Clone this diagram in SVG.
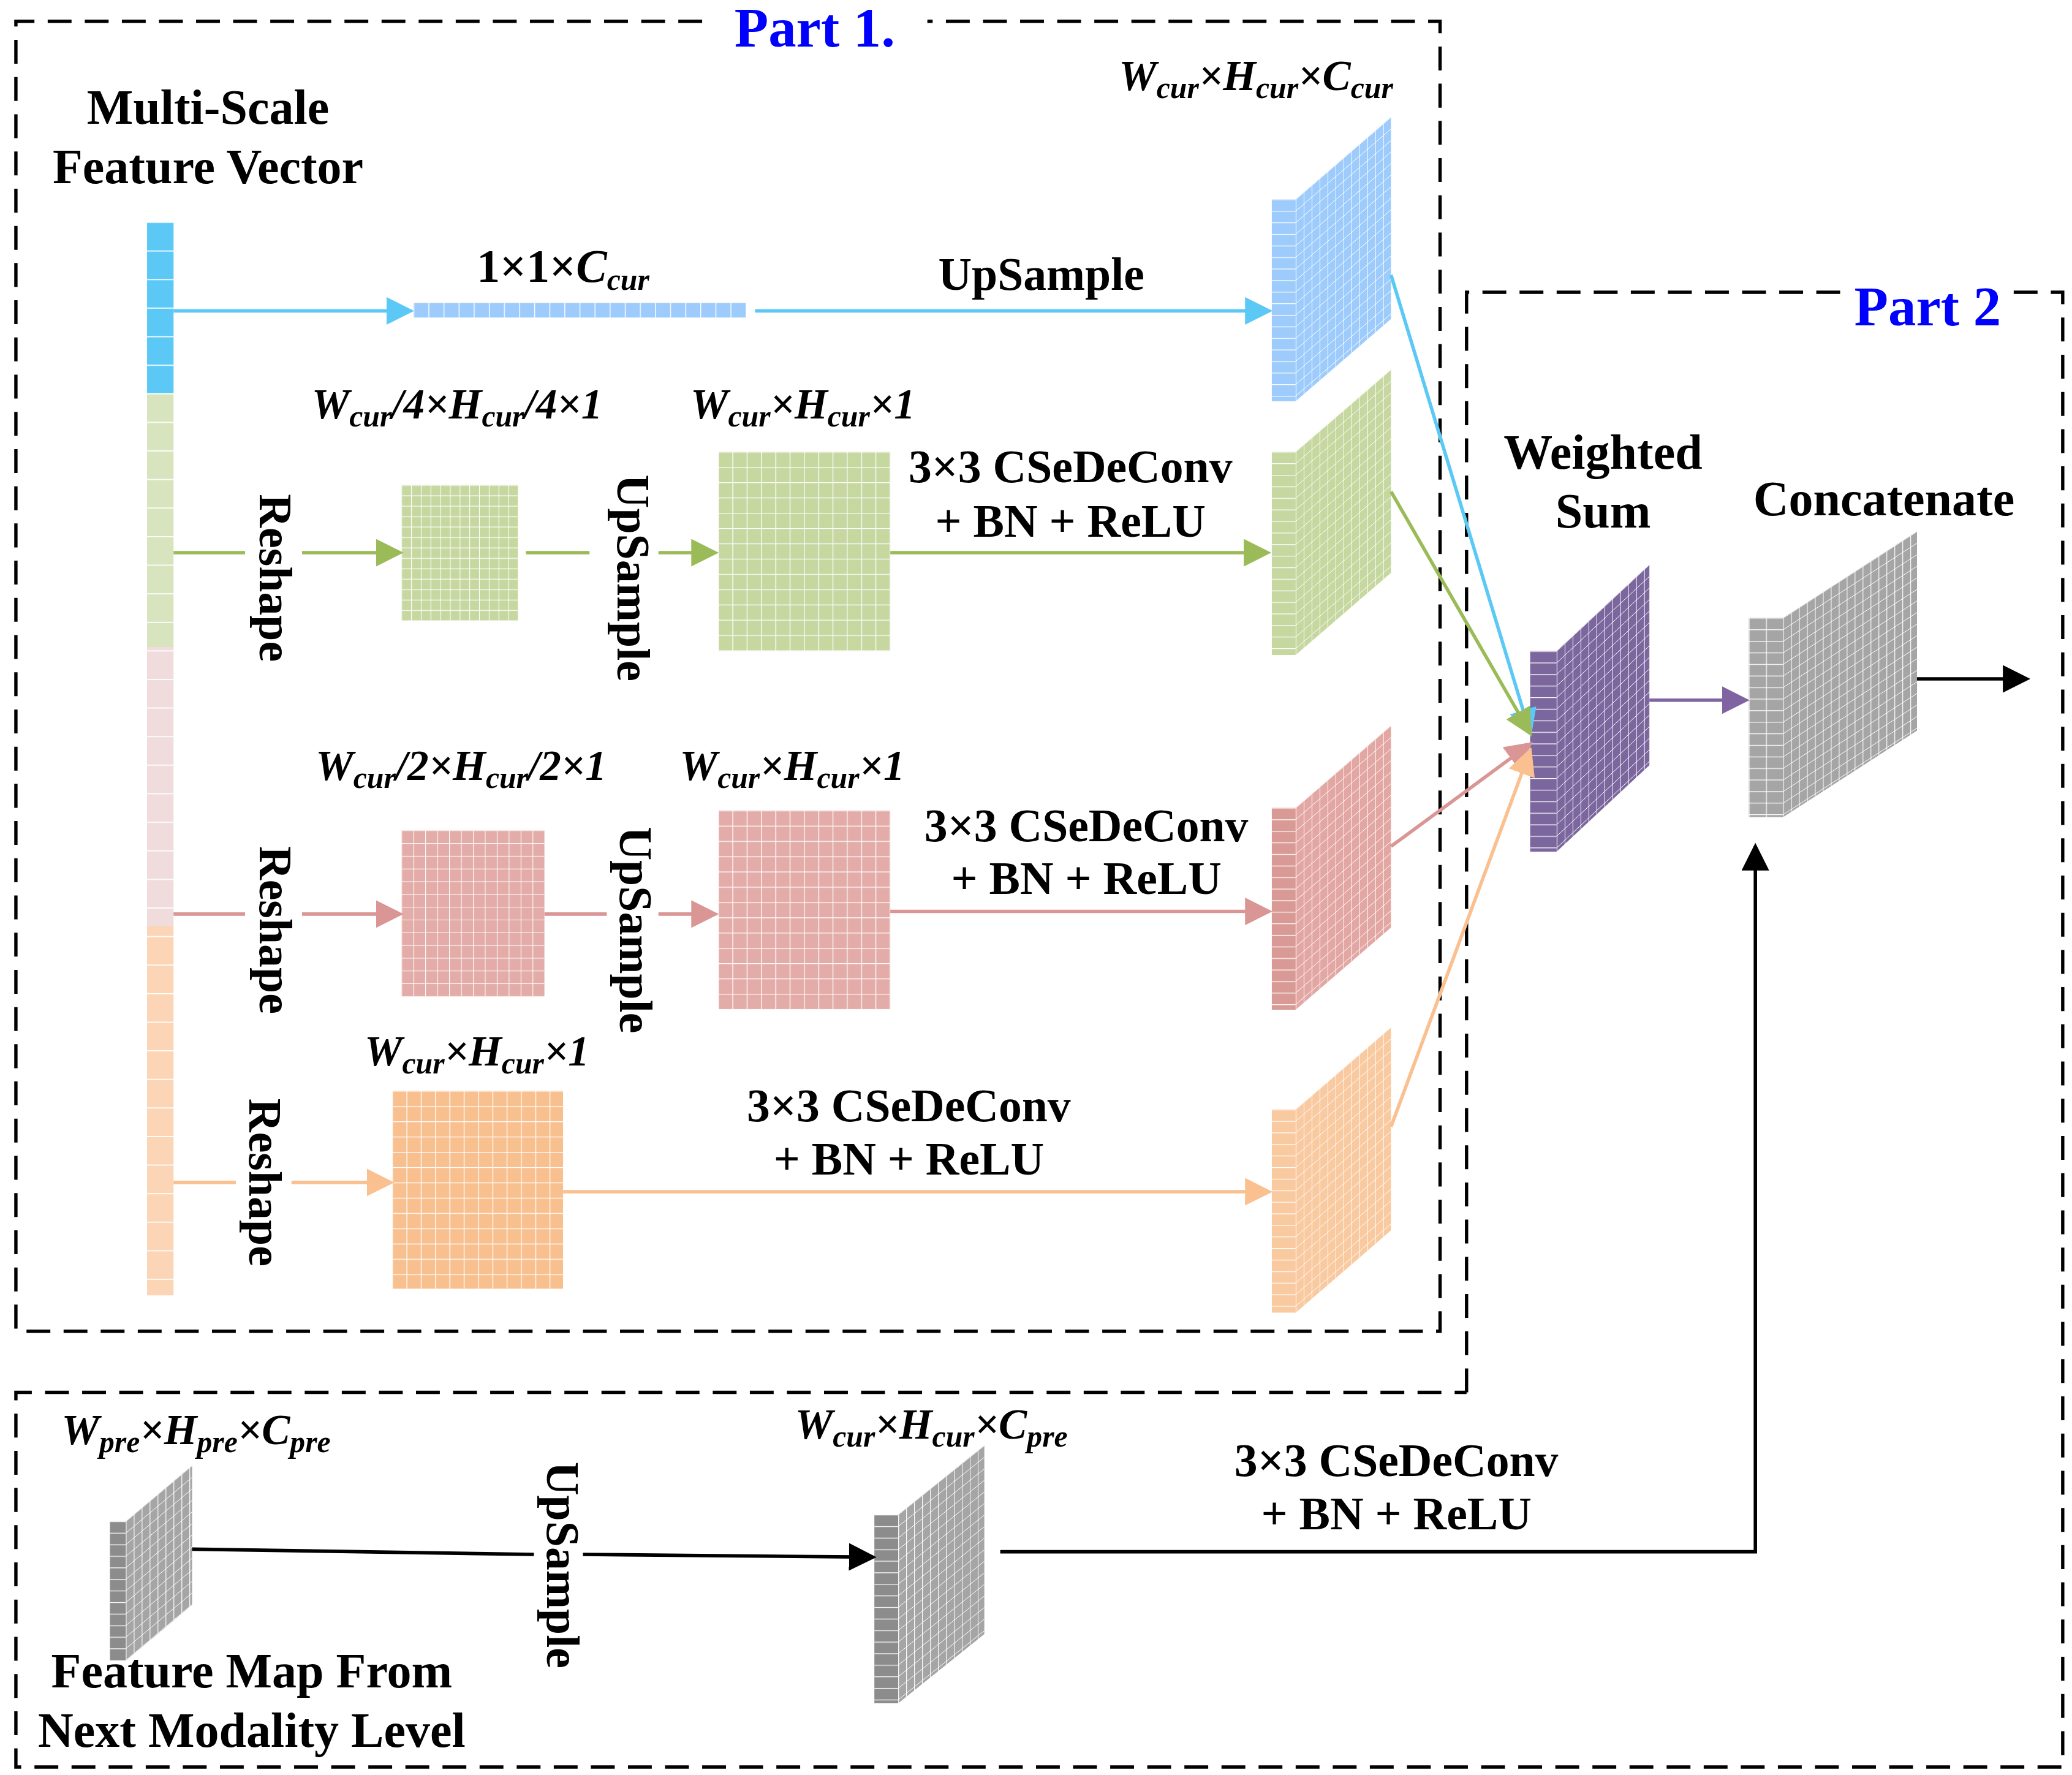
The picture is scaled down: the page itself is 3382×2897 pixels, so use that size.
<svg xmlns="http://www.w3.org/2000/svg" width="3382" height="2897" viewBox="0 0 3382 2897">
<style>
.t{font-family:"Liberation Serif","Times New Roman",serif;font-weight:bold;font-size:35px;fill:#000;text-anchor:middle}
.b{font-size:37px}
.i{font-style:italic;font-size:32px}
.s{font-size:23px}
.ttl{font-family:"Liberation Serif",serif;font-weight:bold;font-size:42px;fill:#0000FF;text-anchor:middle}
.dash{fill:none;stroke:#000;stroke-width:2.5;stroke-dasharray:18 10}
.ln{fill:none;stroke-width:2.6}
</style>
<defs>
<pattern id="ps" width="6" height="8.7" patternUnits="userSpaceOnUse"><path d="M0,0H6M0,0V8.7" stroke="#fff" stroke-width="1" fill="none"/></pattern>
<pattern id="pf" width="18" height="8.7" patternUnits="userSpaceOnUse"><path d="M0,0H18" stroke="#fff" stroke-width="1.2" fill="none"/></pattern>
<pattern id="pf2" width="13" height="8.7" patternUnits="userSpaceOnUse"><path d="M0,0H13M0,0V8.7" stroke="#fff" stroke-width="1.2" fill="none"/></pattern>
<pattern id="pv" width="20" height="21.5" patternUnits="userSpaceOnUse"><path d="M0,0H20" stroke="#fff" stroke-width="1.5" fill="none"/></pattern>
<pattern id="ph" width="11.4" height="11" patternUnits="userSpaceOnUse"><path d="M0,0V11" stroke="#fff" stroke-width="1.3" fill="none"/></pattern>
<pattern id="p7" width="7.33" height="7.85" patternUnits="userSpaceOnUse"><path d="M0,0H7.33M0,0V7.85" stroke="#fff" stroke-width="1" fill="none"/></pattern>
<pattern id="p9" width="9" height="9.6" patternUnits="userSpaceOnUse"><path d="M0,0H9M0,0V9.6" stroke="#fff" stroke-width="1" fill="none"/></pattern>
<pattern id="p11" width="10.8" height="11.5" patternUnits="userSpaceOnUse"><path d="M0,0H10.8M0,0V11.5" stroke="#fff" stroke-width="1.2" fill="none"/></pattern>
<marker id="mB" markerWidth="8" markerHeight="8" refX="7" refY="4" orient="auto" viewBox="0 0 8 8"><path d="M0,0L8,4L0,8z" fill="#5BC8F5"/></marker>
<marker id="mG" markerWidth="8" markerHeight="8" refX="7" refY="4" orient="auto" viewBox="0 0 8 8"><path d="M0,0L8,4L0,8z" fill="#9BBB59"/></marker>
<marker id="mR" markerWidth="8" markerHeight="8" refX="7" refY="4" orient="auto" viewBox="0 0 8 8"><path d="M0,0L8,4L0,8z" fill="#D99694"/></marker>
<marker id="mO" markerWidth="8" markerHeight="8" refX="7" refY="4" orient="auto" viewBox="0 0 8 8"><path d="M0,0L8,4L0,8z" fill="#FAC090"/></marker>
<marker id="mP" markerWidth="8" markerHeight="8" refX="7" refY="4" orient="auto" viewBox="0 0 8 8"><path d="M0,0L8,4L0,8z" fill="#8064A2"/></marker>
<marker id="mK" markerWidth="8" markerHeight="8" refX="7" refY="4" orient="auto" viewBox="0 0 8 8"><path d="M0,0L8,4L0,8z" fill="#000"/></marker>
</defs>
<rect width="3382" height="2897" fill="#fff"/>
<g transform="scale(2.1624 2.1684)">
<g id="frames">
<path class="dash" d="M530,16H12V1002H1087V16H700"/>
<path class="dash" d="M1107,1048V220H1390M1520,220H1557V1330H12V1048H1107"/>
<text class="ttl" x="615" y="35">Part 1.</text>
<text class="ttl" x="1455" y="245">Part 2</text>
</g>
<g id="vector">
<text class="t b" x="157" y="93">Multi-Scale</text>
<text class="t b" x="157" y="138">Feature Vector</text>
<rect x="111" y="167" width="20" height="129" fill="#5BC8F5"/>
<rect x="111" y="296" width="20" height="191" fill="#D8E4BE"/>
<rect x="111" y="487" width="20" height="210" fill="#F0DCDC"/>
<rect x="111" y="697" width="20" height="278" fill="#FBD5B5"/>
<g transform="translate(0,167)"><rect x="111" y="0" width="20" height="808" fill="url(#pv)"/></g>
</g>
<g id="row1">
<text class="t" x="425" y="212">1×1×<tspan font-style="italic">C</tspan><tspan class="s" font-style="italic" dy="6">cur</tspan></text>
<g transform="translate(312,228)"><rect width="251" height="11" fill="#9DCBFB"/><rect width="251" height="11" fill="url(#ph)"/></g>
<text class="t" x="786" y="218">UpSample</text>
<text class="t i" x="948" y="68">W<tspan class="s" dy="6">cur</tspan><tspan dy="-6">×H</tspan><tspan class="s" dy="6">cur</tspan><tspan dy="-6">×C</tspan><tspan class="s" dy="6">cur</tspan></text>
</g>
<g id="blockBlue">
<g transform="translate(960,150)"><rect width="18" height="152" fill="#9DCBFB"/><rect width="18" height="152" fill="url(#pf)"/></g>
<g transform="translate(978,150) skewY(-40.7)"><rect width="72" height="152" fill="#9DCBFB"/><rect width="72" height="152" fill="url(#ps)"/></g>
</g>
<g id="row2">
<text class="t i" x="345" y="315">W<tspan class="s" dy="6">cur</tspan><tspan dy="-6">/4×H</tspan><tspan class="s" dy="6">cur</tspan><tspan dy="-6">/4×1</tspan></text>
<text class="t i" x="606" y="315">W<tspan class="s" dy="6">cur</tspan><tspan dy="-6">×H</tspan><tspan class="s" dy="6">cur</tspan><tspan dy="-6">×1</tspan></text>
<text class="t" transform="translate(196,435) rotate(90)">Reshape</text>
<text class="t" transform="translate(466,435) rotate(90)">UpSample</text>
<g transform="translate(303,365)"><rect width="88" height="102" fill="#C6D7A0"/><rect width="88" height="102" fill="url(#p7)"/></g>
<g transform="translate(542,340)"><rect width="130" height="150" fill="#C6D7A0"/><rect width="130" height="150" fill="url(#p11)"/></g>
<text class="t" x="808" y="363">3×3 CSeDeConv</text>
<text class="t" x="808" y="404">+ BN + ReLU</text>
</g>
<g id="blockGreen">
<g transform="translate(960,340)"><rect width="18" height="153" fill="#C6D7A0"/><rect width="18" height="153" fill="url(#pf)"/></g>
<g transform="translate(978,340) skewY(-40.7)"><rect width="72" height="153" fill="#C6D7A0"/><rect width="72" height="153" fill="url(#ps)"/></g>
</g>
<g id="row3">
<text class="t i" x="348" y="587">W<tspan class="s" dy="6">cur</tspan><tspan dy="-6">/2×H</tspan><tspan class="s" dy="6">cur</tspan><tspan dy="-6">/2×1</tspan></text>
<text class="t i" x="598" y="587">W<tspan class="s" dy="6">cur</tspan><tspan dy="-6">×H</tspan><tspan class="s" dy="6">cur</tspan><tspan dy="-6">×1</tspan></text>
<text class="t" transform="translate(196,700) rotate(90)">Reshape</text>
<text class="t" transform="translate(468,700) rotate(90)">UpSample</text>
<g transform="translate(303,625)"><rect width="108" height="125" fill="#E3ACA8"/><rect width="108" height="125" fill="url(#p9)"/></g>
<g transform="translate(542,610)"><rect width="130" height="150" fill="#E3ACA8"/><rect width="130" height="150" fill="url(#p11)"/></g>
<text class="t" x="820" y="633">3×3 CSeDeConv</text>
<text class="t" x="820" y="673">+ BN + ReLU</text>
</g>
<g id="blockRed">
<g transform="translate(960,608)"><rect width="18" height="152" fill="#D99A95"/><rect width="18" height="152" fill="url(#pf)"/></g>
<g transform="translate(978,608) skewY(-40.7)"><rect width="72" height="152" fill="#E3A7A3"/><rect width="72" height="152" fill="url(#ps)"/></g>
</g>
<g id="row4">
<text class="t i" x="360" y="802">W<tspan class="s" dy="6">cur</tspan><tspan dy="-6">×H</tspan><tspan class="s" dy="6">cur</tspan><tspan dy="-6">×1</tspan></text>
<text class="t" transform="translate(188,890) rotate(90)">Reshape</text>
<g transform="translate(296,821)"><rect width="129" height="149" fill="#F9C08F"/><rect width="129" height="149" fill="url(#p11)"/></g>
<text class="t" x="686" y="844">3×3 CSeDeConv</text>
<text class="t" x="686" y="884">+ BN + ReLU</text>
</g>
<g id="blockOrange">
<g transform="translate(960,835)"><rect width="18" height="153" fill="#F9C9A0"/><rect width="18" height="153" fill="url(#pf)"/></g>
<g transform="translate(978,835) skewY(-40.7)"><rect width="72" height="153" fill="#F9C9A0"/><rect width="72" height="153" fill="url(#ps)"/></g>
</g>
<g id="weightedSum">
<text class="t b" x="1210" y="353">Weighted</text>
<text class="t b" x="1210" y="397">Sum</text>
<g transform="translate(1155,490)"><rect width="20" height="151" fill="#7B679E"/><rect width="20" height="151" fill="url(#pf)"/></g>
<g transform="translate(1175,490) skewY(-42.9)"><rect width="70" height="151" fill="#7B679E"/><rect width="70" height="151" fill="url(#ps)"/></g>
</g>
<g id="concatenate">
<text class="t b" x="1422" y="388">Concatenate</text>
<g transform="translate(1320,465)"><rect width="26" height="150" fill="#A5A5A5"/><rect width="26" height="150" fill="url(#pf2)"/></g>
<g transform="translate(1346,465) skewY(-32.8)"><rect width="101" height="150" fill="#A5A5A5"/><rect width="101" height="150" fill="url(#ps)"/></g>
</g>
<g id="prevMap">
<text class="t i" x="148" y="1087">W<tspan class="s" dy="6">pre</tspan><tspan dy="-6">×H</tspan><tspan class="s" dy="6">pre</tspan><tspan dy="-6">×C</tspan><tspan class="s" dy="6">pre</tspan></text>
<g transform="translate(83,1145)"><rect width="12" height="105" fill="#8C8C8C"/><rect width="12" height="105" fill="url(#pf)"/></g>
<g transform="translate(95,1145) skewY(-40)"><rect width="50" height="105" fill="#A5A5A5"/><rect width="50" height="105" fill="url(#ps)"/></g>
<text class="t b" x="190" y="1270">Feature Map From</text>
<text class="t b" x="190" y="1315">Next Modality Level</text>
<text class="t" transform="translate(413,1178) rotate(90)">UpSample</text>
</g>
<g id="upMap">
<text class="t i" x="703" y="1083">W<tspan class="s" dy="6">cur</tspan><tspan dy="-6">×H</tspan><tspan class="s" dy="6">cur</tspan><tspan dy="-6">×C</tspan><tspan class="s" dy="6">pre</tspan></text>
<g transform="translate(660,1140)"><rect width="18" height="142" fill="#8C8C8C"/><rect width="18" height="142" fill="url(#pf)"/></g>
<g transform="translate(678,1140) skewY(-38.7)"><rect width="65" height="142" fill="#A5A5A5"/><rect width="65" height="142" fill="url(#ps)"/></g>
<text class="t" x="1054" y="1111">3×3 CSeDeConv</text>
<text class="t" x="1054" y="1151">+ BN + ReLU</text>
</g>
<g id="connectors">
<path class="ln" stroke="#5BC8F5" d="M131,234H310" marker-end="url(#mB)"/>
<path class="ln" stroke="#5BC8F5" d="M570,234H958" marker-end="url(#mB)"/>
<path class="ln" stroke="#9BBB59" d="M131,416H185"/>
<path class="ln" stroke="#9BBB59" d="M228,416H302" marker-end="url(#mG)"/>
<path class="ln" stroke="#9BBB59" d="M397,416H445"/>
<path class="ln" stroke="#9BBB59" d="M497,416H540" marker-end="url(#mG)"/>
<path class="ln" stroke="#9BBB59" d="M672,416H957" marker-end="url(#mG)"/>
<path class="ln" stroke="#D99694" d="M131,688H185"/>
<path class="ln" stroke="#D99694" d="M228,688H302" marker-end="url(#mR)"/>
<path class="ln" stroke="#D99694" d="M411,688H458"/>
<path class="ln" stroke="#D99694" d="M497,688H540" marker-end="url(#mR)"/>
<path class="ln" stroke="#D99694" d="M672,686H958" marker-end="url(#mR)"/>
<path class="ln" stroke="#FAC090" d="M131,890H178"/>
<path class="ln" stroke="#FAC090" d="M220,890H295" marker-end="url(#mO)"/>
<path class="ln" stroke="#FAC090" d="M425,897H958" marker-end="url(#mO)"/>
<path class="ln" stroke="#5BC8F5" d="M1050,207L1155,552" marker-end="url(#mB)"/>
<path class="ln" stroke="#9BBB59" d="M1050,370L1155,552" marker-end="url(#mG)"/>
<path class="ln" stroke="#D99694" d="M1050,637L1155,560" marker-end="url(#mR)"/>
<path class="ln" stroke="#FAC090" d="M1050,848L1155,565" marker-end="url(#mO)"/>
<path class="ln" stroke="#8064A2" d="M1245,527H1318" marker-end="url(#mP)"/>
<path class="ln" stroke="#000" d="M1447,511H1530" marker-end="url(#mK)"/>
<path class="ln" stroke="#000" d="M145,1166L403,1170"/>
<path class="ln" stroke="#000" d="M440,1170L659,1172" marker-end="url(#mK)"/>
<path class="ln" stroke="#000" d="M755,1168H1325V637" marker-end="url(#mK)"/>
</g>
</g>
</svg>
